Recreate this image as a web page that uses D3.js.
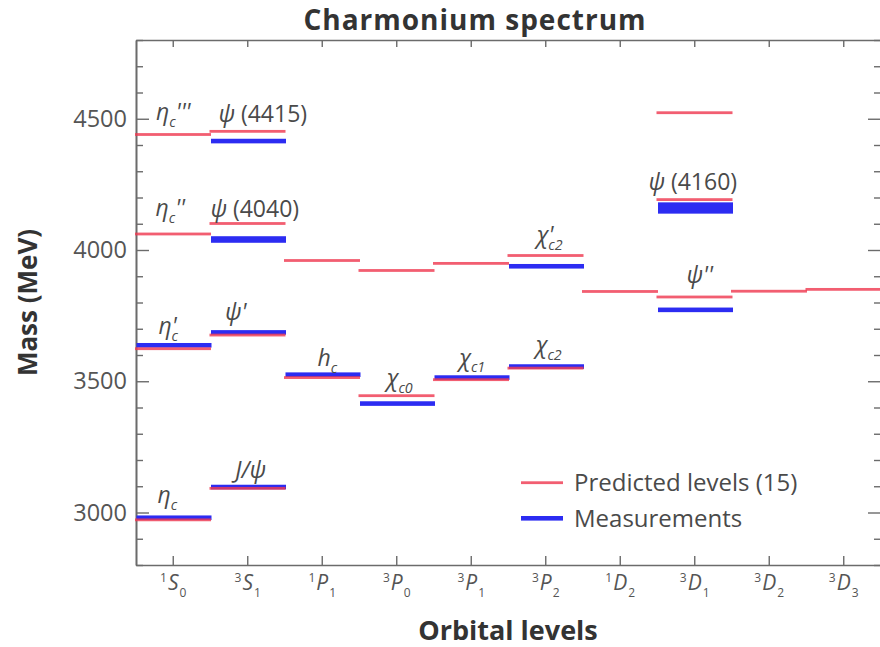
<!DOCTYPE html>
<html>
<head>
<meta charset="utf-8">
<script src="https://cdn.jsdelivr.net/npm/d3@7"></script>
<style>
  html, body { margin: 0; padding: 0; background: #fff; }
  svg { display: block; font-family: "Open Sans", "Noto Sans", sans-serif; }
</style>
</head>
<body>
<svg id="chart" width="880" height="647"></svg>
<script>
// ---- Orbital states (x axis): multiplicity, orbital letter, total J ----
const states = ["1S0", "3S1", "1P1", "3P0", "3P1", "3P2", "1D2", "3D1", "3D2", "3D3"];
const stateMultiplicity = ["1", "3", "1", "3", "3", "3", "1", "3", "3", "3"];
const stateLetter = ["S", "S", "P", "P", "P", "P", "D", "D", "D", "D"];
const stateJ = ["0", "1", "1", "0", "1", "2", "2", "1", "2", "3"];

// ---- Predicted levels (MeV) ----
const predictedState = ["1S0", "1S0", "1S0", "1S0",
                        "3S1", "3S1", "3S1", "3S1",
                        "1P1", "1P1", "3P0", "3P0", "3P1", "3P1", "3P2", "3P2",
                        "1D2", "3D1", "3D1", "3D1", "3D2", "3D3"];
const predictedMass = [2972, 3624, 4061, 4440,
                       3092, 3676, 4101, 4452,
                       3514, 3960, 3445, 3922, 3506, 3949, 3550, 3979,
                       3842, 3821, 4192, 4523, 3843, 3850];

// ---- Measured states (MeV) and half-spread of the band (MeV) ----
const measuredState = ["1S0", "1S0", "3S1", "3S1", "3S1", "3S1",
                       "1P1", "3P0", "3P1", "3P2", "3P2", "3D1", "3D1"];
const measuredMass = [2980, 3637, 3097, 3686, 4040, 4415,
                      3525, 3415, 3514, 3556, 3938, 3772, 4160];
const measuredSpread = [0, 0, 0, 0, 12.5, 0,
                        0, 0, 0, 0, 0, 0, 21.5];

// ---- State names written next to the levels ----
// segment kinds: "i" italic, "r" upright, "sub" subscript, "bk" back-step subscript
const labelState = ["1S0", "3S1", "1S0", "3S1", "1S0", "3S1", "1P1",
                    "3P0", "3P1", "3P2", "3P2", "3D1", "3D1", "3S1", "1S0"];
const labelMass = [4440, 4415, 4061, 4040, 3637, 3686, 3525,
                   3445, 3514, 3556, 3979, 4192, 3821, 3097, 2980];
const labelParts = [
  [["η", "i"], ["c", "sub"], ["'''", "i"]],
  [["ψ", "i"], [" (4415)", "r"]],
  [["η", "i"], ["c", "sub"], ["''", "i"]],
  [["ψ", "i"], [" (4040)", "r"]],
  [["η", "i"], ["'", "i"], ["c", "bk"]],
  [["ψ", "i"], ["'", "i"]],
  [["h", "i"], ["c", "sub"]],
  [["χ", "i"], ["c0", "sub"]],
  [["χ", "i"], ["c1", "sub"]],
  [["χ", "i"], ["c2", "sub"]],
  [["χ", "i"], ["'", "i"], ["c2", "bk"]],
  [["ψ", "i"], [" (4160)", "r"]],
  [["ψ", "i"], ["''", "i"]],
  [["J/ψ", "i"]],
  [["η", "i"], ["c", "sub"]]
];

const yTicksMajor = [3000, 3500, 4000, 4500];
const legendNames = ["Predicted levels (15)", "Measurements"];

// ---- Layout ----
const plot = { left: 136, right: 881, top: 40, bottom: 565 };
const RED = "#ef3b52", BLUE = "#2c2cf2";
const AXIS = "#6b6b6b", TXT = "#4a4a4a";

// label placement: [dx from band centre, baseline offset above the level] in px
const labelNudge = [[0, 14.5], [15, 19], [-3, 18], [7, 22.5], [-5, 11], [-12, 12], [5, 9],
                    [3, 10], [1, 12], [3, 13.5], [4, 12.5], [-2, 10], [5, 14], [3, 9], [-6, 15]];

const svg = d3.select("#chart");

const x = d3.scaleBand().domain(states).range([plot.left, plot.right]).padding(0);
const y = d3.scaleLinear().domain([2800, 4800]).range([plot.bottom, plot.top]);
const bw = x.bandwidth();

// ---- Axes (ticks point into the plot) ----
function styleAxis(g) {
  g.selectAll("path.domain").attr("stroke", AXIS).attr("stroke-width", 1.6);
  g.selectAll(".tick line").attr("stroke", AXIS).attr("stroke-width", 1.4);
}
const minorTicks = y.ticks(20).filter(v => !yTicksMajor.includes(v));

svg.append("g").attr("transform", `translate(${plot.left},0)`)
  .call(d3.axisLeft(y).tickValues(minorTicks).tickSize(-7).tickSizeOuter(0).tickFormat(""))
  .call(styleAxis);
const leftMajor = svg.append("g").attr("transform", `translate(${plot.left},0)`)
  .call(d3.axisLeft(y).tickValues(yTicksMajor).tickSize(-13).tickSizeOuter(0).tickPadding(9).tickFormat(d3.format("d")))
  .call(styleAxis);
leftMajor.selectAll(".tick text")
  .attr("font-size", 23.5).attr("fill", "#555").attr("font-family", "'Open Sans', sans-serif");

svg.append("g").attr("transform", `translate(${plot.right},0)`)
  .call(d3.axisRight(y).tickValues(minorTicks).tickSize(-7).tickSizeOuter(0).tickFormat(""))
  .call(styleAxis);
svg.append("g").attr("transform", `translate(${plot.right},0)`)
  .call(d3.axisRight(y).tickValues(yTicksMajor).tickSize(-13).tickSizeOuter(0).tickFormat(""))
  .call(styleAxis);

svg.append("g").attr("transform", `translate(0,${plot.top})`)
  .call(d3.axisTop(x).tickSize(-7).tickSizeOuter(0).tickFormat(""))
  .call(styleAxis);
const bottom = svg.append("g").attr("transform", `translate(0,${plot.bottom})`)
  .call(d3.axisBottom(x).tickSize(-9).tickSizeOuter(0).tickFormat(""))
  .call(styleAxis);

// spectroscopic tick labels  ^{2S+1}L_J
bottom.selectAll(".tick").each(function (d) {
  const i = states.indexOf(d);
  const t = d3.select(this).append("text")
    .attr("y", 25).attr("text-anchor", "middle").attr("fill", "#555")
    .attr("font-family", "'Open Sans', sans-serif");
  t.append("tspan").attr("font-size", 12).attr("dy", -8).text(stateMultiplicity[i]);
  t.append("tspan").attr("font-size", 21).attr("font-style", "italic").attr("dy", 8).attr("dx", 1).text(stateLetter[i]);
  t.append("tspan").attr("font-size", 12).attr("dy", 7).attr("dx", 1).text(stateJ[i]);
});

// ---- Level marks ----
const predicted = predictedMass.map((m, i) => ({ state: predictedState[i], mass: m }));
const measured = measuredMass.map((m, i) => ({ state: measuredState[i], mass: m, spread: measuredSpread[i] }));

const marks = svg.append("g");
marks.selectAll("rect.meas").data(measured).join("rect")
  .attr("class", "meas")
  .attr("x", d => x(d.state) + 0.5)
  .attr("width", bw + 0.5)
  .attr("y", d => Math.min(y(d.mass + d.spread), y(d.mass) - 2.3))
  .attr("height", d => Math.max(y(d.mass - d.spread) - y(d.mass + d.spread), 4.6))
  .attr("fill", BLUE);

marks.selectAll("rect.pred").data(predicted).join("rect")
  .attr("class", "pred")
  .attr("x", d => x(d.state) - 1)
  .attr("width", bw + 1.5)
  .attr("y", d => y(d.mass) - 1.4)
  .attr("height", 2.8)
  .attr("fill", RED)
  .attr("fill-opacity", 0.82);

// ---- Level names ----
const labels = svg.append("g").attr("fill", TXT).attr("font-family", "'Open Sans', sans-serif");
labelParts.forEach((parts, i) => {
  const cx = x(labelState[i]) + bw / 2 + labelNudge[i][0];
  const by = y(labelMass[i]) - labelNudge[i][1];
  const fs = 23;
  const t = labels.append("text").attr("x", cx).attr("y", by)
    .attr("text-anchor", "middle").attr("font-size", fs);
  let shift = 0;
  parts.forEach(([str, kind]) => {
    const sp = t.append("tspan").text(str);
    let target = 0;
    if (kind === "sub" || kind === "bk") {
      target = 0.3 * fs;
      sp.attr("font-size", 0.62 * fs).attr("font-style", "italic");
      if (kind === "bk") sp.attr("dx", -0.22 * fs);
    } else if (kind === "i") {
      sp.attr("font-style", "italic");
    }
    if (target !== shift) sp.attr("dy", target - shift);
    shift = target;
  });
});

// ---- Legend ----
const legend = svg.append("g");
legend.append("rect").attr("x", 521).attr("width", 42).attr("y", 481.3).attr("height", 2.8)
  .attr("fill", RED).attr("fill-opacity", 0.82);
legend.append("rect").attr("x", 521).attr("width", 42).attr("y", 516).attr("height", 4.6)
  .attr("fill", BLUE);
legend.selectAll("text").data(legendNames).join("text")
  .attr("x", 574).attr("y", (d, i) => 491 + i * 35.5)
  .attr("font-size", 24).attr("fill", TXT).text(d => d);

// ---- Titles ----
svg.append("text").attr("x", 475).attr("y", 30).attr("text-anchor", "middle")
  .attr("font-size", 28).attr("font-weight", "bold").attr("letter-spacing", 1).attr("fill", "#333")
  .text("Charmonium spectrum");
svg.append("text").attr("x", 508).attr("y", 640).attr("text-anchor", "middle")
  .attr("font-size", 27).attr("font-weight", "bold").attr("fill", "#333")
  .text("Orbital levels");
svg.append("text").attr("transform", `translate(37,${(plot.top + plot.bottom) / 2}) rotate(-90)`)
  .attr("text-anchor", "middle")
  .attr("font-size", 26).attr("font-weight", "bold").attr("fill", "#333")
  .text("Mass (MeV)");
</script>
</body>
</html>
